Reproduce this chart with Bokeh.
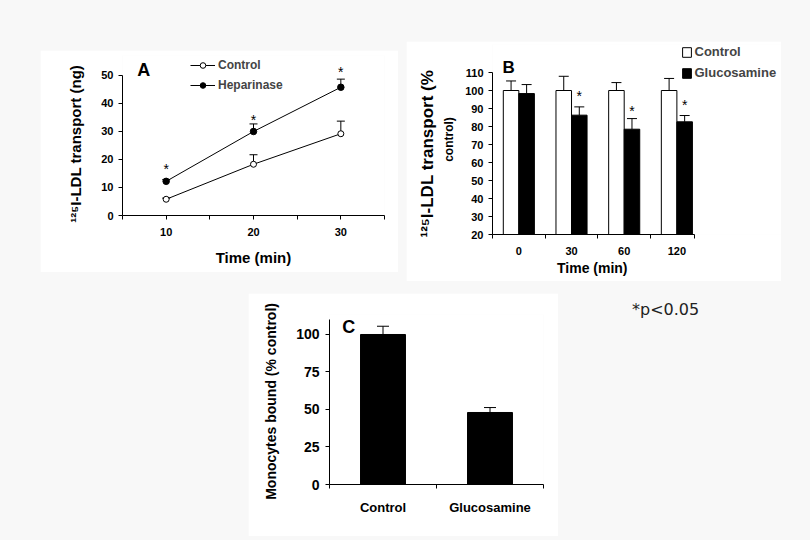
import numpy as np
from bokeh.plotting import figure
from bokeh.models import (ColumnDataSource, Whisker, TeeHead, Legend, LegendItem, Label,
                          FixedTicker, Range1d, Spacer, Div, LinearAxis)
from bokeh.layouts import column, row
from bokeh.core.properties import value
from bokeh.embed import file_html
from bokeh.resources import INLINE

# ---------------- data ----------------
# Panel A
a_time = [10, 20, 30]
a_control = [5.8, 18.3, 29.2]
a_control_sem = [0.4, 3.4, 4.5]
a_heparinase = [12.2, 30.0, 45.8]
a_heparinase_sem = [0.6, 2.7, 2.9]
a_star_y = [16.8, 34.6, 51.5]
a_xticks = [10, 20, 30]
a_xminor = [5, 15, 25, 35]
a_yticks = [0, 10, 20, 30, 40, 50]

# Panel B
b_times = ["0", "30", "60", "120"]
b_control = [100, 100, 100, 100]
b_control_sem = [5.3, 7.9, 4.4, 6.7]
b_glucosamine = [98.3, 86.3, 78.5, 82.6]
b_glucosamine_sem = [5.0, 4.6, 5.9, 3.5]
b_star_idx = [1, 2, 3]
b_star_y = [97.9, 90.0, 93.1]
b_yticks = [20, 30, 40, 50, 60, 70, 80, 90, 100, 110]

# Panel C
c_groups = ["Control", "Glucosamine"]
c_values = [100, 48]
c_sem = [5.5, 3.3]
c_yticks = [0, 25, 50, 75, 100]

FB = "Liberation Sans, Arial, sans-serif"
FA = FB
BG = "#f8f8f8"
NB = "\u00a0"  # non-breaking space, used to shift axis labels along their axis


def style(p, font, tick_size, label_size):
    p.outline_line_color = None
    p.background_fill_color = "white"
    p.border_fill_color = "white"
    p.grid.visible = False
    for ax in p.axis:
        ax.axis_line_color = "black"
        ax.major_tick_line_color = "black"
        ax.minor_tick_line_color = "black"
        ax.major_tick_in = 0
        ax.major_tick_out = 4
        ax.minor_tick_in = 0
        ax.minor_tick_out = 4
        ax.major_label_text_font = font
        ax.major_label_text_font_style = "bold"
        ax.major_label_text_font_size = tick_size
        ax.major_label_text_color = "black"
        ax.axis_label_text_font = font
        ax.axis_label_text_font_style = "bold"
        ax.axis_label_text_font_size = label_size
        ax.axis_label_text_color = "black"


def stars(p, xs, ys, size, yoff):
    p.text(x=list(xs), y=list(ys), text=["*"] * len(xs), text_font=value(FB),
           text_font_size=size, text_align="center", text_baseline="middle",
           y_offset=yoff, text_color="black")


# ---------------- Panel A ----------------
pA = figure(width=358, height=222, x_range=Range1d(5, 35), y_range=Range1d(0, 57.14),
            output_backend="svg", toolbar_location=None, title=None,
            min_border_left=82, min_border_right=14, min_border_top=5, min_border_bottom=57)
style(pA, FA, "11px", "15px")
pA.xaxis.ticker = FixedTicker(ticks=a_xticks, minor_ticks=a_xminor)
pA.yaxis.ticker = FixedTicker(ticks=a_yticks)
pA.xaxis.bounds = (5, 35)
pA.yaxis.bounds = (0, 50)
pA.xaxis.axis_label = "Time (min)"
pA.yaxis.axis_label = "¹²⁵I-LDL transport (ng)" + NB * 4
pA.xaxis.major_label_standoff = 8
pA.xaxis.axis_label_standoff = 10
pA.yaxis.major_label_standoff = 5
pA.yaxis.axis_label_standoff = 14

srcAc = ColumnDataSource(dict(x=a_time, y=a_control,
                              up=[v + e for v, e in zip(a_control, a_control_sem)]))
srcAh = ColumnDataSource(dict(x=a_time, y=a_heparinase,
                              up=[v + e for v, e in zip(a_heparinase, a_heparinase_sem)]))
for s in (srcAc, srcAh):
    pA.add_layout(Whisker(source=s, base="x", lower="y", upper="up", line_color="black",
                          lower_head=None,
                          upper_head=TeeHead(size=8, line_color="black", line_width=1)))
lc = pA.line("x", "y", source=srcAc, line_color="black", line_width=1)
sc = pA.scatter("x", "y", source=srcAc, size=6, fill_color="white", line_color="black")
lh = pA.line("x", "y", source=srcAh, line_color="black", line_width=1)
sh = pA.scatter("x", "y", source=srcAh, size=6.5, fill_color="black", line_color="black")
stars(pA, a_time, a_star_y, "14px", 1)
legA = Legend(items=[LegendItem(label="Control", renderers=[lc, sc]),
                     LegendItem(label="Heparinase", renderers=[lh, sh])],
              location=(68, 123), orientation="vertical", padding=0, margin=0,
              spacing=6, glyph_width=25, glyph_height=14, label_height=14,
              label_standoff=3, background_fill_alpha=0, border_line_alpha=0,
              label_text_font=FA, label_text_font_style="bold", label_text_font_size="12px")
pA.add_layout(legA)
pA.add_layout(Label(x=6.7, y=52.1, text="A", text_font=FA, text_font_style="bold",
                    text_font_size="18px", text_baseline="alphabetic", text_color="black"))

# ---------------- Panel B ----------------
pB = figure(width=375, height=240, x_range=Range1d(0.5, 5.986), y_range=Range1d(20, 125.56),
            output_backend="svg", toolbar_location=None, title=None,
            min_border_left=86, min_border_right=0, min_border_top=3, min_border_bottom=47)
b_yaxis = pB.yaxis[0]
b_xaxis = pB.xaxis[0]
b_label_axis = LinearAxis(ticker=FixedTicker(ticks=[]))
pB.add_layout(b_label_axis, "left")
style(pB, FB, "11px", "12px")
b_label_axis.axis_line_color = None
b_label_axis.major_tick_out = 0
b_label_axis.minor_tick_out = 0
b_label_axis.major_label_standoff = 0
b_label_axis.axis_label = "¹²⁵I-LDL transport (%" + NB * 6
b_label_axis.axis_label_text_font_size = "17px"
b_label_axis.axis_label_standoff = 3

b_centers = np.arange(1, len(b_times) + 1)
b_w = 0.295
b_xaxis.ticker = FixedTicker(ticks=list(b_centers),
                             minor_ticks=list(b_centers - 0.5) + [len(b_times) + 0.33])
b_xaxis.major_label_overrides = {int(c): t for c, t in zip(b_centers, b_times)}
b_xaxis.major_tick_out = 0
b_xaxis.bounds = (0.5, len(b_times) + 0.33)
b_yaxis.ticker = FixedTicker(ticks=b_yticks)
b_yaxis.bounds = (20, 110)
b_xaxis.axis_label = "Time (min)" + NB * 23
b_xaxis.axis_label_text_font_size = "14px"
b_yaxis.axis_label = "control)"
b_yaxis.axis_label_text_font_size = "12px"
b_xaxis.major_label_standoff = 8
b_xaxis.axis_label_standoff = 2
b_yaxis.major_label_standoff = 5
b_yaxis.axis_label_standoff = 6

srcBc = ColumnDataSource(dict(x=b_centers - b_w / 2, y=b_control,
                              up=[v + e for v, e in zip(b_control, b_control_sem)]))
srcBg = ColumnDataSource(dict(x=b_centers + b_w / 2, y=b_glucosamine,
                              up=[v + e for v, e in zip(b_glucosamine, b_glucosamine_sem)]))
vc = pB.vbar(x="x", top="y", bottom=20, width=b_w, source=srcBc, fill_color="white",
             line_color="black", line_width=1)
vg = pB.vbar(x="x", top="y", bottom=20, width=b_w, source=srcBg, fill_color="black",
             line_color="black", line_width=1)
for s in (srcBc, srcBg):
    pB.add_layout(Whisker(source=s, base="x", lower="y", upper="up", line_color="black",
                          lower_head=None,
                          upper_head=TeeHead(size=10, line_color="black", line_width=1)))
stars(pB, [b_centers[i] + b_w / 2 for i in b_star_idx], b_star_y, "14px", 2)
legB = Legend(items=[LegendItem(label="Control", renderers=[vc]),
                     LegendItem(label="Glucosamine", renderers=[vg])],
              location=(188.5, 154), orientation="vertical", padding=0, margin=0,
              spacing=6, glyph_width=11, glyph_height=12, label_height=14,
              label_standoff=3, background_fill_alpha=0, border_line_alpha=0,
              label_text_font=FB, label_text_font_style="bold", label_text_font_size="13px")
pB.add_layout(legB)
pB.add_layout(Label(x=0.69, y=112.8, text="B", text_font=FB, text_font_style="bold",
                    text_font_size="17px", text_baseline="alphabetic", text_color="black"))

# ---------------- Panel C ----------------
pC = figure(width=310, height=243, x_range=Range1d(0.5, len(c_groups) + 0.5),
            y_range=Range1d(0, 113.33),
            output_backend="svg", toolbar_location=None, title=None,
            min_border_left=81, min_border_right=15, min_border_top=21, min_border_bottom=52)
style(pC, FB, "14px", "14px")
c_centers = np.arange(1, len(c_groups) + 1)
pC.xaxis.ticker = FixedTicker(ticks=list(c_centers),
                              minor_ticks=list(c_centers - 0.5) + [len(c_groups) + 0.5])
pC.xaxis.major_label_overrides = {int(c): g for c, g in zip(c_centers, c_groups)}
pC.xaxis.major_tick_out = 0
pC.xaxis.bounds = (0.5, len(c_groups) + 0.5)
pC.yaxis.ticker = FixedTicker(ticks=c_yticks)
pC.yaxis.bounds = (0, 110)
pC.yaxis.axis_label = "Monocytes bound (% control)" + NB
pC.xaxis.major_label_standoff = 11
pC.yaxis.major_label_standoff = 6
pC.yaxis.axis_label_standoff = 14
pC.xaxis.major_label_text_font_size = "13px"

srcC = ColumnDataSource(dict(x=c_centers, y=c_values,
                             up=[v + e for v, e in zip(c_values, c_sem)]))
pC.vbar(x="x", top="y", bottom=0, width=0.42, source=srcC, fill_color="black",
        line_color="black")
pC.add_layout(Whisker(source=srcC, base="x", lower="y", upper="up", line_color="black",
                      lower_head=None,
                      upper_head=TeeHead(size=12, line_color="black", line_width=1)))
pC.add_layout(Label(x=0.62, y=104.9, text="C", text_font=FB, text_font_style="bold",
                    text_font_size="18px", text_baseline="alphabetic", text_color="black"))

note = Div(text="*p&lt;0.05", width=90, height=24,
           styles={"font-family": "DejaVu Sans, sans-serif", "font-size": "16px",
                   "color": "#222222", "line-height": "20px", "margin": "0", "padding": "0"})

layout = column(
    Spacer(height=41, width=10),
    row(Spacer(width=40, height=10), column(Spacer(height=9, width=10), pA),
        Spacer(width=8, height=10), pB),
    Spacer(height=12, width=10),
    row(Spacer(width=248, height=10), pC, Spacer(width=74, height=10),
        column(Spacer(height=7, width=10), note)),
    styles={"background-color": BG},
)

html = file_html(layout, INLINE)
html = html.replace("</head>", "<style>html,body{background:%s;}</style></head>" % BG, 1)
open("out.html", "w").write(html)
